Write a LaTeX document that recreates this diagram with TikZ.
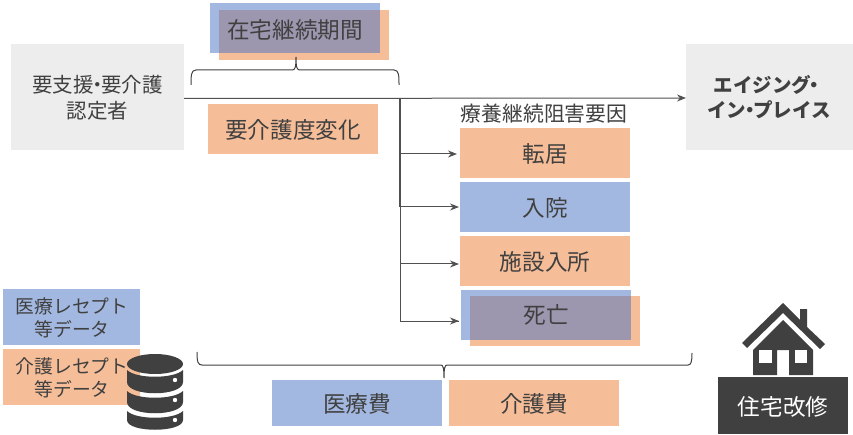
\documentclass[tikz,border=0pt]{standalone}
\usepackage{fontspec}
\setmainfont{Noto Sans CJK JP}
\newcommand{\fs}[1]{\fontsize{#1}{#1}\selectfont}
\newcommand{\nd}{\hspace{-.32em}・\hspace{-.32em}}
\definecolor{bluebox}{HTML}{A2B8E0}
\definecolor{orangebox}{HTML}{F5BD98}
\definecolor{overlapbox}{HTML}{9C97AE}
\definecolor{graybox}{HTML}{EDEDED}
\definecolor{darktext}{HTML}{404040}
\definecolor{linegray}{HTML}{505050}
\tikzset{
 x=1pt,y=-1pt,
 every node/.style={inner sep=0pt,outer sep=0pt,text=darktext,align=center},
 txt/.style={font=\fs{19}},
 big/.style={font=\fs{22.6}},
 conn/.style={draw=linegray,line width=1pt},
 arr/.style={conn,-{Stealth[length=9pt,width=7pt]}},
 brace/.style={draw=darktext,line width=1pt},
}
\usetikzlibrary{arrows.meta}
\begin{document}
\begin{tikzpicture}
\useasboundingbox (0,0) rectangle (853,435);
% gray end boxes
\fill[graybox] (11,44) rectangle (184,150);
\fill[graybox] (686,44) rectangle (853,150);
\node[txt,font=\fs{20.5}] (src) at (97.5,98) {要支援\nd 要介護\\[5pt]認定者};
\node[txt,font=\fs{19.5}\bfseries] (aip) at (769,97) {エイジング\nd\\[5pt]イン\nd プレイス};
% in-home period
\fill[bluebox] (210,3) rectangle (380,53);
\fill[orangebox] (219,10) rectangle (389,60);
\fill[overlapbox] (219,10) rectangle (380,53);
\node[big] (period) at (295,29.5) {在宅継続期間};
% care level
\fill[orangebox] (208,104) rectangle (378,154);
\node[big] (care) at (293,130) {要介護度変化};
% reasons
\node[txt,font=\fs{20.8}] (reason) at (544,113.5) {療養継続阻害要因};
\fill[orangebox] (460,128) rectangle (630,178);
\node[big] (r1) at (545,153.5) {転居};
\fill[bluebox] (460,182) rectangle (630,232);
\node[big] (r2) at (545,207.5) {入院};
\fill[orangebox] (460,236) rectangle (630,286);
\node[big] (r3) at (545,261.5) {施設入所};
\fill[bluebox] (461,290) rectangle (631,340);
\fill[orangebox] (470,296) rectangle (640,346);
\fill[overlapbox] (470,296) rectangle (631,340);
\node[big] (r4) at (546,315) {死亡};
% connectors
\coordinate (start) at (184,98.5);
\coordinate (bus) at (400,98.5);
\coordinate (b1) at (400,154);
\coordinate (b2) at (400,207);
\coordinate (b3) at (400,264);
\coordinate (b4) at (400,321);
\coordinate (e1) at (457,154);
\coordinate (e2) at (459,207);
\coordinate (e3) at (459,264);
\coordinate (e4) at (459,321);
\coordinate (end) at (686,98);
\draw[arr] (start) -- (end);
\draw[conn,line width=2pt] (bus) -- (b2);
\draw[conn] (b2) -- (b4) -- (e4);
\draw[arr] (b1) -- (e1);
\draw[arr] (b2) -- (e2);
\draw[arr] (b3) -- (e3);
\draw[arr] (b4) -- (e4);
% top brace
\draw[brace] (191,85) .. controls (191,76) and (191,70) .. (196,70) -- (292,70) .. controls (295,70) and (296,68) .. (296,57) .. controls (296,68) and (297,70) .. (300,70) -- (394,70) .. controls (399,70) and (399,76) .. (399,85);
% bottom brace
\draw[brace] (197,352) .. controls (197,362) and (198,365) .. (202,365) -- (441,365) .. controls (443,365) and (444,368) .. (444,378) .. controls (444,368) and (445,365) .. (447,365) -- (688,365) .. controls (691,365) and (692,362) .. (692,353);
% cost boxes
\fill[bluebox] (272,380) rectangle (442,426);
\node[big] (c1) at (357,404) {医療費};
\fill[orangebox] (449,380) rectangle (619,426);
\node[big] (c2) at (534,404) {介護費};
% data boxes
\fill[bluebox] (3,289) rectangle (140,345);
\node[txt,font=\fs{18.8}] (d1) at (72,317.5) {医療レセプト\\[4pt]等データ};
\fill[orangebox] (3,349) rectangle (140,405);
\node[txt,font=\fs{18.8}] (d2) at (72,377.5) {介護レセプト\\[4pt]等データ};
% database icon
\fill[darktext] (155,364) ellipse [x radius=28,y radius=10];
\fill[darktext] (127,370) .. controls (136,379) and (174,379) .. (183,370) -- (183,382) .. controls (183,397) and (127,397) .. (127,382) -- cycle;
\fill[darktext] (127,391) .. controls (136,400) and (174,400) .. (183,391) -- (183,402) .. controls (183,417) and (127,417) .. (127,402) -- cycle;
\fill[darktext] (127,411) .. controls (136,420) and (174,420) .. (183,411) -- (183,420) .. controls (183,433) and (127,433) .. (127,420) -- cycle;
\fill[white] (175,380) circle (2.2);
\fill[white] (175,400) circle (2.2);
\fill[white] (175,420) circle (2.2);
% house icon
\fill[darktext] (742,343) -- (783,303) -- (800,320) -- (800,309) -- (807,309) -- (807,327) -- (825,344) -- (820,349) -- (783,313) -- (747,348) -- cycle;
\fill[darktext] (753,350) -- (783,320) -- (813,350) -- (813,375) -- (789,375) -- (789,350) -- (777,350) -- (777,375) -- (753,375) -- cycle;
\fill[white] (759,350) rectangle (772,363);
\fill[white] (795,350) rectangle (807,363);
% home modification
\fill[darktext] (718,377) rectangle (848,434);
\node[big,text=white] (hm) at (783,406.5) {住宅改修};
\end{tikzpicture}
\end{document}
